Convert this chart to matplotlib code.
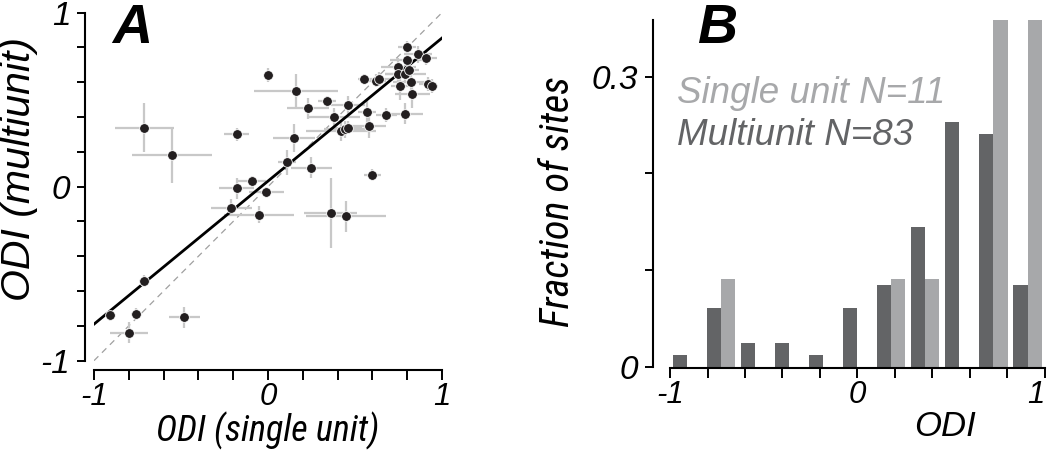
import numpy as np
import matplotlib
matplotlib.use('Agg')
import matplotlib.pyplot as plt
from matplotlib import font_manager

# ODI values, panel A (single unit vs multiunit at the same site)
su_odi = [0.00, -0.71, -0.55, -0.18, -0.09, -0.18, -0.01, 0.16, 0.23, 0.34,
          0.46, 0.55, 0.62, 0.64, 0.38, 0.57, 0.68, 0.79, 0.58, 0.42,
          0.44, 0.46, 0.15, 0.11, 0.25, 0.60, 0.80, 0.86, 0.91, 0.80,
          0.75, 0.75, 0.79, 0.81, 0.82, 0.76, 0.92, 0.94, 0.83, -0.21,
          -0.05, 0.36, 0.45, -0.71, -0.91, -0.76, -0.80, -0.48]
mu_odi = [0.64, 0.34, 0.18, 0.30, 0.03, -0.01, -0.03, 0.55, 0.45, 0.49,
          0.47, 0.62, 0.61, 0.62, 0.40, 0.43, 0.41, 0.42, 0.35, 0.32,
          0.33, 0.34, 0.28, 0.14, 0.11, 0.07, 0.80, 0.76, 0.74, 0.73,
          0.69, 0.65, 0.65, 0.67, 0.60, 0.58, 0.59, 0.58, 0.53, -0.12,
          -0.16, -0.15, -0.17, -0.54, -0.74, -0.73, -0.84, -0.75]
su_err = [0.02, 0.17, 0.23, 0.07, 0.08, 0.10, 0.10, 0.24, 0.12, 0.05,
          0.10, 0.03, 0.06, 0.08, 0.15, 0.05, 0.06, 0.10, 0.10, 0.20,
          0.12, 0.08, 0.12, 0.05, 0.12, 0.05, 0.05, 0.08, 0.06, 0.10,
          0.10, 0.08, 0.12, 0.06, 0.10, 0.05, 0.05, 0.04, 0.10, 0.12,
          0.20, 0.15, 0.23, 0.03, 0.03, 0.03, 0.11, 0.09]
mu_err = [0.04, 0.14, 0.16, 0.04, 0.03, 0.06, 0.03, 0.10, 0.06, 0.03,
          0.05, 0.03, 0.04, 0.04, 0.05, 0.07, 0.04, 0.06, 0.07, 0.06,
          0.05, 0.04, 0.08, 0.07, 0.06, 0.03, 0.04, 0.05, 0.04, 0.05,
          0.05, 0.06, 0.05, 0.04, 0.07, 0.08, 0.04, 0.04, 0.08, 0.05,
          0.05, 0.20, 0.09, 0.03, 0.03, 0.03, 0.06, 0.06]

fit_slope = 0.822
fit_intercept = 0.032

# panel B histogram counts (11 bins between -1 and 1)
mu_counts = [1, 5, 2, 2, 1, 5, 7, 12, 21, 20, 7]
su_counts = [0, 1, 0, 0, 0, 0, 1, 1, 0, 4, 4]
n_mu = 83
n_su = 11

bin_edges = np.linspace(-1, 1, len(mu_counts) + 1)
mu_frac = np.array(mu_counts) / n_mu
su_frac = np.array(su_counts) / n_su

plt.rcParams['font.family'] = ['Liberation Sans', 'DejaVu Sans']

# look for a narrow oblique face (the x label of A is condensed)
narrow_fp = None
cands = []
for f in font_manager.fontManager.ttflist:
    fn = f.fname.lower()
    if ('narrow' in fn or 'condensed' in fn) and ('italic' in fn or 'oblique' in fn) \
            and 'bold' not in fn and 'semi' not in fn and 'extra' not in fn \
            and 'light' not in fn and 'medium' not in fn and 'black' not in fn \
            and 'thin' not in fn:
        cands.append(f.fname)
for key in ('liberationsansnarrow', 'robotocondensed', 'notosans-condensed',
            'opensans_condensed', 'opensans-condensed', 'dejavusanscondensed'):
    hit = [c for c in cands if key in c.lower().replace(' ', '')]
    if hit:
        narrow_fp = hit[0]
        break
if narrow_fp is None and cands:
    narrow_fp = cands[0]
narrow_scale = 0.80 if (narrow_fp and 'dejavu' in narrow_fp.lower()) else 1.0


def nfont(size):
    if narrow_fp:
        return font_manager.FontProperties(fname=narrow_fp, size=size*narrow_scale)
    return font_manager.FontProperties(family='Liberation Sans', style='italic',
                                       size=size * 0.84)


def ifont(size):
    return font_manager.FontProperties(family='Liberation Sans', style='italic',
                                       size=size)


dark = '#636466'
light = '#a7a8aa'
dot = '#231f20'
errc = '#c8c8c8'

fig = plt.figure(figsize=(10.5, 4.71), dpi=100)

# ---- panel A
axA = fig.add_axes([0.0895, 0.2342, 0.3314, 0.7389])
axA.plot([-1, 1], [-1, 1], '--', color='#a0a0a0', lw=0.9, dashes=(5, 4), zorder=1)
axA.errorbar(su_odi, mu_odi, xerr=su_err, yerr=mu_err, fmt='none',
             ecolor=errc, elinewidth=1.6, capsize=0, zorder=2, clip_on=False)
xf = np.array([-1, 1])
axA.plot(xf, fit_slope*xf + fit_intercept, color='black', lw=2.0, zorder=3)
axA.plot(su_odi, mu_odi, 'o', color=dot, ms=7, mec='white', mew=0.6,
         zorder=4, clip_on=False)
axA.set_xlim(-1, 1)
axA.set_ylim(-1, 1)

# ---- panel B
axB = fig.add_axes([0.6381, 0.2214, 0.3571, 0.7361])
axB.bar(bin_edges[:-1] + 0.014, mu_frac, width=0.075, align='edge', color=dark)
axB.bar(bin_edges[:-1] + 0.089, su_frac, width=0.075, align='edge', color=light)
axB.set_xlim(-1, 1)
axB.set_ylim(0, 0.3586)

# spines first: moving a spine rebuilds the ticks
axA.spines['left'].set_position(('outward', 6.5))
axA.spines['bottom'].set_position(('outward', 6.7))
axB.spines['left'].set_position(('outward', 12.2))
axB.spines['bottom'].set_position(('outward', 1))

ticks = np.round(np.arange(-1, 1.01, 0.2), 1)
tick_lab = ['-1' if t == -1 else '0' if t == 0 else '1' if t == 1 else '' for t in ticks]

for ax in (axA, axB):
    for s in ('top', 'right'):
        ax.spines[s].set_visible(False)
    for s in ('left', 'bottom'):
        ax.spines[s].set_linewidth(1.5)
    ax.tick_params(axis='x', length=7.5, width=1.4, pad=1)
    ax.tick_params(axis='y', length=5.5, width=1.4, pad=5)
    ax.set_xticks(ticks)
    ax.set_xticklabels(tick_lab, fontproperties=ifont(22.5))

axA.set_yticks(ticks)
axA.set_yticklabels(tick_lab, fontproperties=ifont(24))
axB.set_yticks([0, 0.1, 0.2, 0.3])
axB.set_yticklabels(['0', '', '', '0.3'], fontproperties=ifont(24))
axB.get_xticklabels()[-1].set_horizontalalignment('right')

# axis labels
lab_kw = dict(ha='center', va='center')
fig.text(19/1050, 1 - 169/471, 'ODI (multiunit)', rotation=90,
         fontproperties=ifont(29.5), **lab_kw)
fig.text(268/1050, 1 - 431/471, 'ODI (single unit)', fontproperties=nfont(26), **lab_kw)
fig.text(558/1050, 1 - 202/471, 'Fraction of sites', rotation=90,
         fontproperties=nfont(29), **lab_kw)
fig.text(945/1050, 1 - 427/471, 'ODI', fontproperties=ifont(25), **lab_kw)

# legend text
fig.text(677/1050, 1 - 103/471, f'Single unit N={n_su}', color=light,
         fontproperties=ifont(26.5), va='baseline')
fig.text(677/1050, 1 - 145/471, f'Multiunit N={n_mu}', color=dark,
         fontproperties=ifont(26.5), va='baseline')

# panel letters
fig.text(112/1050, 1 - 43/471, 'A', fontsize=40, fontweight='bold',
         fontstyle='italic', va='baseline')
fig.text(697/1050, 1 - 43/471, 'B', fontsize=40, fontweight='bold',
         fontstyle='italic', va='baseline')

fig.savefig('out.png', dpi=100)
